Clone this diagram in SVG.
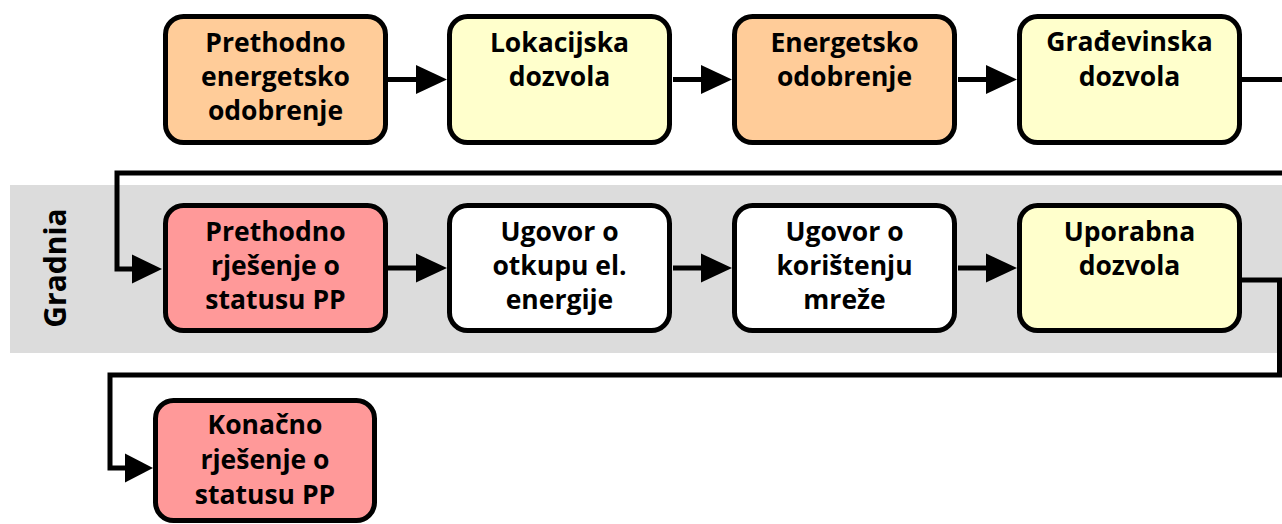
<svg xmlns="http://www.w3.org/2000/svg" width="1282" height="524" viewBox="0 0 1282 524">
<style>
.box{stroke:#000;stroke-width:5}
.peach{fill:#FFCC99}
.yellow{fill:#FFFFCC}
.pink{fill:#FF9999}
.white{fill:#FFFFFF}
.t{font-family:"Open Sans","Noto Sans",sans-serif;font-weight:bold;font-size:26.5px;fill:#000;text-anchor:middle}
.ln{fill:none;stroke:#000;stroke-width:5}
.ah{fill:#000}
</style>
<rect x="10" y="185" width="1272" height="168" fill="#DCDCDC"/>
<text class="t" style="font-size:30px" transform="translate(66,268) rotate(-90)">Gradnia</text>
<g id="connectors">
<path class="ln" d="M388,79.5 H418"/><polygon class="ah" points="416,65 447,79.5 416,94"/>
<path class="ln" d="M673,79.5 H703"/><polygon class="ah" points="701,65 732,79.5 701,94"/>
<path class="ln" d="M958,79.5 H988"/><polygon class="ah" points="986,65 1017,79.5 986,94"/>
<path class="ln" d="M1242,79.5 H1284"/>
<path class="ln" d="M1284,173 H117 V269 H134"/><polygon class="ah" points="132,254.5 162,269 132,283.5"/>
<path class="ln" d="M388,268 H418"/><polygon class="ah" points="416,253.5 447,268 416,282.5"/>
<path class="ln" d="M673,268 H703"/><polygon class="ah" points="701,253.5 732,268 701,282.5"/>
<path class="ln" d="M958,268 H988"/><polygon class="ah" points="986,253.5 1017,268 986,282.5"/>
<path class="ln" d="M1240,280 H1279.5 V375 H110 V468 H127"/><polygon class="ah" points="125,453.5 153,468 125,482.5"/>
</g>
<g id="n1"><rect class="box peach" x="165.5" y="16.5" width="220" height="126" rx="18"/>
<text class="t" x="275.5" y="52">Prethodno</text><text class="t" x="275.5" y="86">energetsko</text><text class="t" x="275.5" y="120">odobrenje</text></g>
<g id="n2"><rect class="box yellow" x="449.5" y="16.5" width="220" height="126" rx="18"/>
<text class="t" x="559.5" y="52">Lokacijska</text><text class="t" x="559.5" y="86">dozvola</text></g>
<g id="n3"><rect class="box peach" x="734.5" y="16.5" width="220" height="126" rx="18"/>
<text class="t" x="844.5" y="52">Energetsko</text><text class="t" x="844.5" y="86">odobrenje</text></g>
<g id="n4"><rect class="box yellow" x="1019.5" y="16.5" width="220" height="126" rx="18"/>
<text class="t" x="1129.5" y="51">Građevinska</text><text class="t" x="1129.5" y="86">dozvola</text></g>
<g id="n5"><rect class="box pink" x="165.5" y="205.5" width="220" height="125" rx="18"/>
<text class="t" x="275.5" y="241">Prethodno</text><text class="t" x="275.5" y="275">rješenje o</text><text class="t" x="275.5" y="309">statusu PP</text></g>
<g id="n6"><rect class="box white" x="449.5" y="205.5" width="220" height="125" rx="18"/>
<text class="t" x="559.5" y="241">Ugovor o</text><text class="t" x="559.5" y="275">otkupu el.</text><text class="t" x="559.5" y="309">energije</text></g>
<g id="n7"><rect class="box white" x="734.5" y="205.5" width="220" height="125" rx="18"/>
<text class="t" x="844.5" y="241">Ugovor o</text><text class="t" x="844.5" y="275">korištenju</text><text class="t" x="844.5" y="309">mreže</text></g>
<g id="n8"><rect class="box yellow" x="1019.5" y="205.5" width="220" height="125" rx="18"/>
<text class="t" x="1129.5" y="241">Uporabna</text><text class="t" x="1129.5" y="275">dozvola</text></g>
<g id="n9"><rect class="box pink" x="155.5" y="400.5" width="219" height="120" rx="18"/>
<text class="t" x="265" y="434">Konačno</text><text class="t" x="265" y="469">rješenje o</text><text class="t" x="265" y="504">statusu PP</text></g>
</svg>
